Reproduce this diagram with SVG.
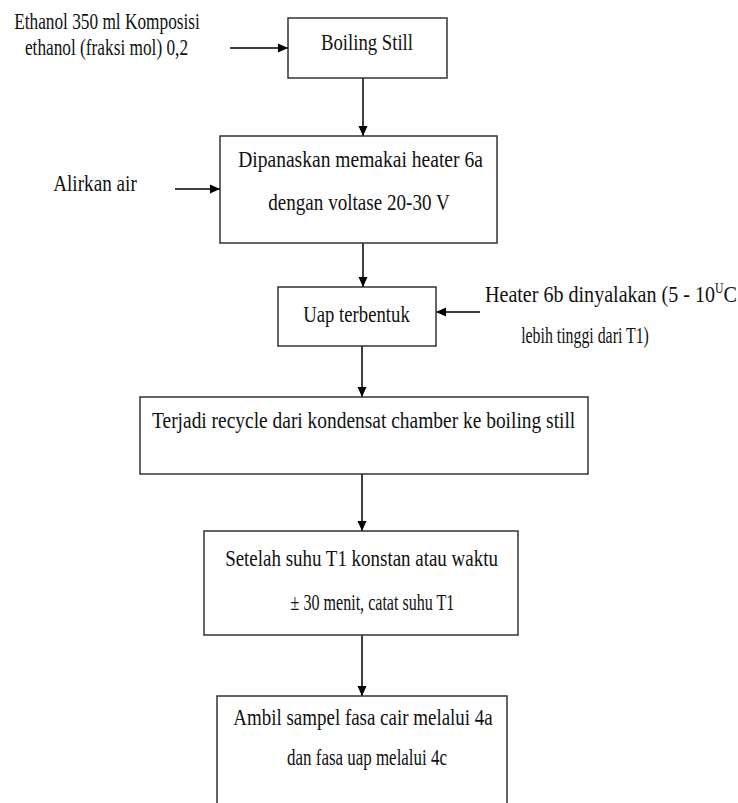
<svg xmlns="http://www.w3.org/2000/svg" width="738" height="803" viewBox="0 0 738 803">
<defs>
<marker id="ah" markerUnits="userSpaceOnUse" markerWidth="10" markerHeight="10" viewBox="0 0 10 10" refX="10" refY="5" orient="auto">
<path d="M0,0.5 L10,5 L0,9.5 z" fill="#000"/>
</marker>
<style>
.box{fill:#fff;stroke:#333;stroke-width:1.5}
.t{font-family:"Liberation Serif","DejaVu Serif",serif;font-size:24px;fill:#111;text-anchor:middle}
.s{text-anchor:start}
.c{stroke:#000;stroke-width:1.5;fill:none;marker-end:url(#ah)}
</style>
</defs>
<rect width="738" height="803" fill="#fff"/>
<g id="connectors">
<line class="c" x1="230" y1="48" x2="288" y2="48"/>
<line class="c" x1="363" y1="78" x2="363" y2="136"/>
<line class="c" x1="175" y1="189" x2="220" y2="189"/>
<line class="c" x1="363" y1="243" x2="363" y2="287"/>
<line class="c" x1="480" y1="312" x2="436" y2="312"/>
<line class="c" x1="362" y1="346" x2="362" y2="397"/>
<line class="c" x1="362" y1="474" x2="362" y2="531"/>
<line class="c" x1="362" y1="635" x2="362" y2="696"/>
</g>
<g id="input-ethanol">
<text class="t" transform="matrix(0.72 0 0 1 107 0)" x="0" y="29">Ethanol 350 ml Komposisi</text>
<text class="t" transform="matrix(0.72 0 0 1 106.5 0)" x="0" y="55">ethanol (fraksi mol) 0,2</text>
</g>
<g id="boiling-still">
<rect class="box" x="288" y="18" width="159" height="60"/>
<text class="t" transform="matrix(0.78 0 0 1 367 0)" x="0" y="50">Boiling Still</text>
</g>
<g id="input-air">
<text class="t" transform="matrix(0.8 0 0 1 95 0)" x="0" y="191">Alirkan air</text>
</g>
<g id="dipanaskan">
<rect class="box" x="220" y="136" width="277" height="107"/>
<text class="t" transform="matrix(0.815 0 0 1 360.5 0)" x="0" y="167">Dipanaskan memakai heater 6a</text>
<text class="t" transform="matrix(0.796 0 0 1 359 0)" x="0" y="210">dengan voltase 20-30 V</text>
</g>
<g id="uap-terbentuk">
<rect class="box" x="278" y="287" width="158" height="59"/>
<text class="t" transform="matrix(0.78 0 0 1 356.5 0)" x="0" y="322">Uap terbentuk</text>
</g>
<g id="input-heater">
<text class="t s" transform="matrix(0.836 0 0 1 485 0)" x="0" y="302">Heater 6b dinyalakan (5 - 10<tspan dy="-9" style="font-size:14px">U</tspan><tspan dy="9">C</tspan></text>
<text class="t" transform="matrix(0.66 0 0 1 585 0)" x="0" y="343">lebih tinggi dari T1)</text>
</g>
<g id="recycle">
<rect class="box" x="140" y="397" width="448" height="77"/>
<text class="t s" transform="matrix(0.81 0 0 1 152 0)" x="0" y="428">Terjadi recycle dari kondensat chamber ke boiling still</text>
</g>
<g id="setelah">
<rect class="box" x="204" y="531" width="314" height="104"/>
<text class="t" transform="matrix(0.79 0 0 1 361.5 0)" x="0" y="566">Setelah suhu T1 konstan atau waktu</text>
<text class="t" transform="matrix(0.67 0 0 1 372.5 0)" x="0" y="610">± 30 menit, catat suhu T1</text>
</g>
<g id="ambil-sampel">
<rect class="box" x="217" y="696" width="290" height="120"/>
<text class="t" transform="matrix(0.79 0 0 1 363 0)" x="0" y="725">Ambil sampel fasa cair melalui 4a</text>
<text class="t" transform="matrix(0.706 0 0 1 367 0)" x="0" y="765">dan fasa uap melalui 4c</text>
</g>
</svg>
